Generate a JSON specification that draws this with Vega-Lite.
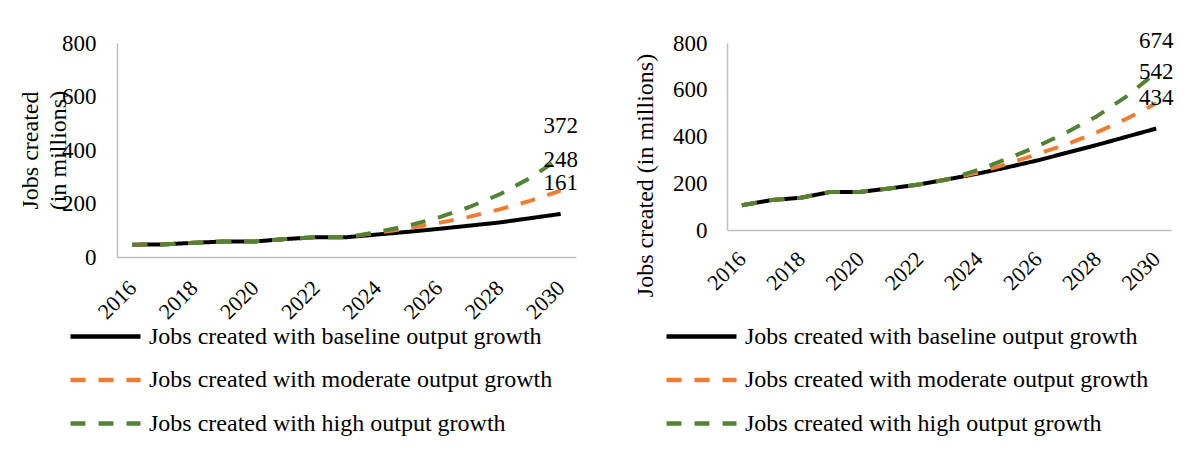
{
  "$schema": "https://vega.github.io/schema/vega-lite/v6.json",
  "background": "white",
  "padding": {"left": 17, "top": 30, "right": 0, "bottom": 0},
  "bounds": "flush",
  "spacing": 151,
  "config": {
    "font": "Liberation Serif",
    "view": {"stroke": null},
    "axis": {
      "grid": false,
      "ticks": false,
      "tickSize": 0,
      "domainColor": "#bfbfbf",
      "domainWidth": 1.5,
      "labelFont": "Liberation Serif",
      "labelFontSize": 23,
      "labelColor": "#000000",
      "titleFont": "Liberation Serif",
      "titleFontSize": 24,
      "titleFontWeight": "normal",
      "titleColor": "#000000"
    },
    "legend": {
      "labelFont": "Liberation Serif",
      "labelFontSize": 24,
      "labelColor": "#000000",
      "labelLimit": 0
    }
  },
  "datasets": {
    "left": [
      {"year": 2016, "series": "Jobs created with baseline output growth", "jobs": 46},
      {"year": 2017, "series": "Jobs created with baseline output growth", "jobs": 47},
      {"year": 2018, "series": "Jobs created with baseline output growth", "jobs": 53},
      {"year": 2019, "series": "Jobs created with baseline output growth", "jobs": 58},
      {"year": 2020, "series": "Jobs created with baseline output growth", "jobs": 58},
      {"year": 2021, "series": "Jobs created with baseline output growth", "jobs": 67},
      {"year": 2022, "series": "Jobs created with baseline output growth", "jobs": 74},
      {"year": 2023, "series": "Jobs created with baseline output growth", "jobs": 74},
      {"year": 2024, "series": "Jobs created with baseline output growth", "jobs": 84},
      {"year": 2025, "series": "Jobs created with baseline output growth", "jobs": 94},
      {"year": 2026, "series": "Jobs created with baseline output growth", "jobs": 105},
      {"year": 2027, "series": "Jobs created with baseline output growth", "jobs": 117},
      {"year": 2028, "series": "Jobs created with baseline output growth", "jobs": 129},
      {"year": 2029, "series": "Jobs created with baseline output growth", "jobs": 145},
      {"year": 2030, "series": "Jobs created with baseline output growth", "jobs": 161},
      {"year": 2016, "series": "Jobs created with moderate output growth", "jobs": 46},
      {"year": 2017, "series": "Jobs created with moderate output growth", "jobs": 47},
      {"year": 2018, "series": "Jobs created with moderate output growth", "jobs": 53},
      {"year": 2019, "series": "Jobs created with moderate output growth", "jobs": 58},
      {"year": 2020, "series": "Jobs created with moderate output growth", "jobs": 58},
      {"year": 2021, "series": "Jobs created with moderate output growth", "jobs": 67},
      {"year": 2022, "series": "Jobs created with moderate output growth", "jobs": 74},
      {"year": 2023, "series": "Jobs created with moderate output growth", "jobs": 74},
      {"year": 2024, "series": "Jobs created with moderate output growth", "jobs": 91},
      {"year": 2025, "series": "Jobs created with moderate output growth", "jobs": 107},
      {"year": 2026, "series": "Jobs created with moderate output growth", "jobs": 127},
      {"year": 2027, "series": "Jobs created with moderate output growth", "jobs": 150},
      {"year": 2028, "series": "Jobs created with moderate output growth", "jobs": 178},
      {"year": 2029, "series": "Jobs created with moderate output growth", "jobs": 210},
      {"year": 2030, "series": "Jobs created with moderate output growth", "jobs": 248},
      {"year": 2016, "series": "Jobs created with high output growth", "jobs": 46},
      {"year": 2017, "series": "Jobs created with high output growth", "jobs": 47},
      {"year": 2018, "series": "Jobs created with high output growth", "jobs": 53},
      {"year": 2019, "series": "Jobs created with high output growth", "jobs": 58},
      {"year": 2020, "series": "Jobs created with high output growth", "jobs": 58},
      {"year": 2021, "series": "Jobs created with high output growth", "jobs": 67},
      {"year": 2022, "series": "Jobs created with high output growth", "jobs": 74},
      {"year": 2023, "series": "Jobs created with high output growth", "jobs": 74},
      {"year": 2024, "series": "Jobs created with high output growth", "jobs": 93},
      {"year": 2025, "series": "Jobs created with high output growth", "jobs": 117},
      {"year": 2026, "series": "Jobs created with high output growth", "jobs": 147},
      {"year": 2027, "series": "Jobs created with high output growth", "jobs": 186},
      {"year": 2028, "series": "Jobs created with high output growth", "jobs": 234},
      {"year": 2029, "series": "Jobs created with high output growth", "jobs": 295},
      {"year": 2030, "series": "Jobs created with high output growth", "jobs": 372}
    ],
    "right": [
      {"year": 2016, "series": "Jobs created with baseline output growth", "jobs": 106},
      {"year": 2017, "series": "Jobs created with baseline output growth", "jobs": 128},
      {"year": 2018, "series": "Jobs created with baseline output growth", "jobs": 138},
      {"year": 2019, "series": "Jobs created with baseline output growth", "jobs": 163},
      {"year": 2020, "series": "Jobs created with baseline output growth", "jobs": 163},
      {"year": 2021, "series": "Jobs created with baseline output growth", "jobs": 178},
      {"year": 2022, "series": "Jobs created with baseline output growth", "jobs": 195},
      {"year": 2023, "series": "Jobs created with baseline output growth", "jobs": 218},
      {"year": 2024, "series": "Jobs created with baseline output growth", "jobs": 242},
      {"year": 2025, "series": "Jobs created with baseline output growth", "jobs": 269},
      {"year": 2026, "series": "Jobs created with baseline output growth", "jobs": 298},
      {"year": 2027, "series": "Jobs created with baseline output growth", "jobs": 331},
      {"year": 2028, "series": "Jobs created with baseline output growth", "jobs": 364},
      {"year": 2029, "series": "Jobs created with baseline output growth", "jobs": 399},
      {"year": 2030, "series": "Jobs created with baseline output growth", "jobs": 434},
      {"year": 2016, "series": "Jobs created with moderate output growth", "jobs": 106},
      {"year": 2017, "series": "Jobs created with moderate output growth", "jobs": 128},
      {"year": 2018, "series": "Jobs created with moderate output growth", "jobs": 138},
      {"year": 2019, "series": "Jobs created with moderate output growth", "jobs": 163},
      {"year": 2020, "series": "Jobs created with moderate output growth", "jobs": 163},
      {"year": 2021, "series": "Jobs created with moderate output growth", "jobs": 178},
      {"year": 2022, "series": "Jobs created with moderate output growth", "jobs": 195},
      {"year": 2023, "series": "Jobs created with moderate output growth", "jobs": 218},
      {"year": 2024, "series": "Jobs created with moderate output growth", "jobs": 246},
      {"year": 2025, "series": "Jobs created with moderate output growth", "jobs": 284},
      {"year": 2026, "series": "Jobs created with moderate output growth", "jobs": 325},
      {"year": 2027, "series": "Jobs created with moderate output growth", "jobs": 368},
      {"year": 2028, "series": "Jobs created with moderate output growth", "jobs": 418},
      {"year": 2029, "series": "Jobs created with moderate output growth", "jobs": 476},
      {"year": 2030, "series": "Jobs created with moderate output growth", "jobs": 542},
      {"year": 2016, "series": "Jobs created with high output growth", "jobs": 106},
      {"year": 2017, "series": "Jobs created with high output growth", "jobs": 128},
      {"year": 2018, "series": "Jobs created with high output growth", "jobs": 138},
      {"year": 2019, "series": "Jobs created with high output growth", "jobs": 163},
      {"year": 2020, "series": "Jobs created with high output growth", "jobs": 163},
      {"year": 2021, "series": "Jobs created with high output growth", "jobs": 178},
      {"year": 2022, "series": "Jobs created with high output growth", "jobs": 195},
      {"year": 2023, "series": "Jobs created with high output growth", "jobs": 218},
      {"year": 2024, "series": "Jobs created with high output growth", "jobs": 258},
      {"year": 2025, "series": "Jobs created with high output growth", "jobs": 306},
      {"year": 2026, "series": "Jobs created with high output growth", "jobs": 359},
      {"year": 2027, "series": "Jobs created with high output growth", "jobs": 419},
      {"year": 2028, "series": "Jobs created with high output growth", "jobs": 487},
      {"year": 2029, "series": "Jobs created with high output growth", "jobs": 572},
      {"year": 2030, "series": "Jobs created with high output growth", "jobs": 674}
    ]
  },
  "hconcat": [
    {
      "width": 459,
      "height": 214,
      "data": {"name": "left"},
      "layer": [
        {
          "mark": {"type": "line", "strokeWidth": 4, "strokeJoin": "round"},
          "encoding": {
            "x": {"field": "year", "type": "ordinal", "scale": {"type": "point", "padding": 0.5},
              "axis": {"title": null, "values": [2016, 2018, 2020, 2022, 2024, 2026, 2028, 2030], "labelAngle": -45, "labelAlign": "right", "labelBaseline": "middle", "labelPadding": 27, "labelFontSize": 22}},
            "y": {"field": "jobs", "type": "quantitative", "scale": {"domain": [0, 800]},
              "axis": {"values": [0, 200, 400, 600, 800], "labelPadding": 21, "title": ["Jobs created", "(in millions)"], "titleAngle": -90, "titleX": -87, "titleY": 107, "titleAlign": "center", "titleBaseline": "middle", "titleLineHeight": 28}},
            "color": {"field": "series", "type": "nominal",
              "scale": {"domain": ["Jobs created with baseline output growth", "Jobs created with moderate output growth", "Jobs created with high output growth"], "range": ["#000000", "#ED7D31", "#548235"]},
              "legend": {"title": null, "orient": "none", "legendX": -47, "legendY": 277, "direction": "vertical", "symbolType": "M-2.5,0L2.5,0", "symbolSize": 784, "symbolStrokeWidth": 4.5, "symbolOffset": 19, "labelOffset": 27, "rowPadding": 14.5}},
            "strokeDash": {"field": "series", "type": "nominal",
              "scale": {"domain": ["Jobs created with baseline output growth", "Jobs created with moderate output growth", "Jobs created with high output growth"], "range": [[1, 0], [15, 13], [15, 13]]},
              "legend": {"title": null, "orient": "none", "legendX": -47, "legendY": 277, "direction": "vertical", "symbolType": "M-2.5,0L2.5,0", "symbolSize": 784, "symbolStrokeWidth": 4.5, "symbolOffset": 19, "labelOffset": 27, "rowPadding": 14.5}}
          }
        },
        {
          "transform": [{"filter": "datum.year == 2030"}],
          "mark": {"type": "text", "dy": -31, "fontSize": 23, "font": "Liberation Serif", "color": "#000000", "align": "center", "baseline": "middle"},
          "encoding": {
            "x": {"field": "year", "type": "ordinal"},
            "y": {"field": "jobs", "type": "quantitative"},
            "text": {"field": "jobs", "type": "quantitative"}
          }
        }
      ]
    },
    {
      "width": 444,
      "height": 187,
      "data": {"name": "right"},
      "layer": [
        {
          "mark": {"type": "line", "strokeWidth": 4, "strokeJoin": "round"},
          "encoding": {
            "x": {"field": "year", "type": "ordinal", "scale": {"type": "point", "padding": 0.5},
              "axis": {"title": null, "values": [2016, 2018, 2020, 2022, 2024, 2026, 2028, 2030], "labelAngle": -45, "labelAlign": "right", "labelBaseline": "middle", "labelPadding": 25, "labelFontSize": 22}},
            "y": {"field": "jobs", "type": "quantitative", "scale": {"domain": [0, 800]},
              "axis": {"values": [0, 200, 400, 600, 800], "labelPadding": 20, "title": "Jobs created (in millions)", "titleAngle": -90, "titleX": -82, "titleY": 132, "titleAlign": "center", "titleBaseline": "middle"}},
            "color": {"field": "series", "type": "nominal",
              "scale": {"domain": ["Jobs created with baseline output growth", "Jobs created with moderate output growth", "Jobs created with high output growth"], "range": ["#000000", "#ED7D31", "#548235"]},
              "legend": {"title": null, "orient": "none", "legendX": -61, "legendY": 277, "direction": "vertical", "symbolType": "M-2.5,0L2.5,0", "symbolSize": 784, "symbolStrokeWidth": 4.5, "symbolOffset": 19, "labelOffset": 27, "rowPadding": 14.5}},
            "strokeDash": {"field": "series", "type": "nominal",
              "scale": {"domain": ["Jobs created with baseline output growth", "Jobs created with moderate output growth", "Jobs created with high output growth"], "range": [[1, 0], [15, 13], [15, 13]]},
              "legend": {"title": null, "orient": "none", "legendX": -61, "legendY": 277, "direction": "vertical", "symbolType": "M-2.5,0L2.5,0", "symbolSize": 784, "symbolStrokeWidth": 4.5, "symbolOffset": 19, "labelOffset": 27, "rowPadding": 14.5}}
          }
        },
        {
          "transform": [{"filter": "datum.year == 2030"}],
          "mark": {"type": "text", "dy": -31, "fontSize": 23, "font": "Liberation Serif", "color": "#000000", "align": "center", "baseline": "middle"},
          "encoding": {
            "x": {"field": "year", "type": "ordinal"},
            "y": {"field": "jobs", "type": "quantitative"},
            "text": {"field": "jobs", "type": "quantitative"}
          }
        }
      ]
    }
  ],
  "resolve": {"scale": {"color": "independent", "strokeDash": "independent", "x": "independent", "y": "independent"}, "legend": {"color": "independent", "strokeDash": "independent"}}
}
